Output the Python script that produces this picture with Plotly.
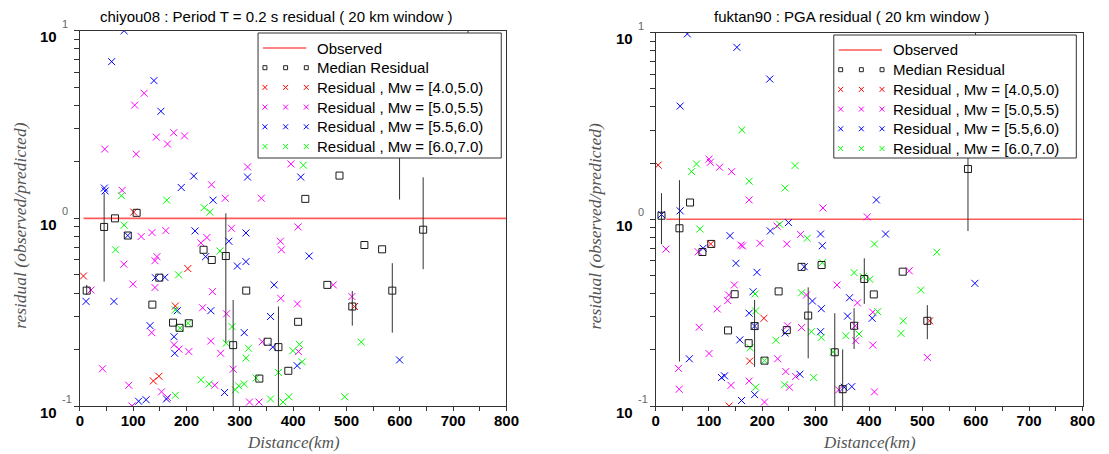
import math
import plotly.graph_objects as go

W, H = 1109, 454

# ---------------- LEFT panel : chiyou08, T = 0.2 s ----------------
L_TITLE = "chiyou08 : Period T = 0.2 s residual ( 20 km window )"
L_OBS_DIST = [7, 800]
L_OBS_RES = [1, 1]

L_MW1_DIST = [6.8, 101, 202.5, 179.1, 137.9, 148.3, 515.1]
L_MW1_RES = [0.493, 1.08, 0.54, 0.341, 0.136, 0.144, 0.339]

L_MW2_DIST = [120.6, 102.8, 143.4, 176, 164.3, 196.3, 46.7, 105.8, 314.5, 79.4,
              246.9, 272.7, 340.3, 395.8, 115, 135.4, 161.2, 82.5, 227.1, 238.2,
              284.3, 376.1, 378, 409.3, 144.6, 140.9, 99.7, 140.9, 20.9, 248.7,
              230.2, 275.1, 134.8, 176.7, 185.9, 204.4, 245.6, 264, 287.5, 342.1,
              376.7, 408, 409.9, 252.9, 42.5, 91.8, 153.2, 164.3, 97.9, 318.1,
              336, 475.2, 510.2]
L_MW2_RES = [4.64, 4.01, 2.71, 2.86, 2.49, 2.75, 2.34, 2.20, 1.88, 1.41,
             1.51, 1.28, 1.28, 1.95, 0.80, 0.84, 0.86, 0.57, 0.74, 0.79,
             0.885, 0.755, 0.68, 0.90, 0.625, 0.595, 0.446, 0.428, 0.415, 0.407,
             0.334, 0.31, 0.246, 0.212, 0.201, 0.195, 0.222, 0.191, 0.157, 0.22,
             0.375, 0.35, 0.195, 0.129, 0.158, 0.129, 0.119, 0.111, 0.10, 0.105,
             0.105, 0.442, 0.383]

L_MW3_DIST = [83, 59.7, 139, 152, 46, 47.5, 190.2, 213.6, 249.8, 314.5,
              414.2, 89.9, 216, 235.8, 279.4, 311.5, 430, 311.5, 295.4, 141.6,
              159.3, 11.6, 64, 245.6, 182.8, 131.7, 176.7, 177.9, 308.3, 364.3,
              357.6, 361.7, 407.5, 271.4, 162.5, 110.2, 124.3, 599.5]
L_MW3_RES = [10.0, 6.84, 5.42, 3.72, 1.45, 1.40, 1.46, 1.68, 1.25, 1.66,
             1.66, 0.81, 0.857, 0.625, 0.755, 0.836, 0.63, 0.588, 0.557, 0.483,
             0.485, 0.361, 0.361, 0.322, 0.322, 0.268, 0.234, 0.191, 0.246, 0.442,
             0.30, 0.206, 0.164, 0.118, 0.109, 0.106, 0.108, 0.176]

L_MW4_DIST = [78.1, 163, 233.2, 243.7, 419.1, 83.1, 67, 262.8, 185.2, 179.1,
              188, 203, 274.5, 285.6, 316.3, 311.5, 411.7, 399.5, 416.8, 372.4,
              330.5, 227.1, 242.4, 291.7, 297.9, 308.3, 179.1, 357.6, 380.9, 392,
              527.7, 496.7]
L_MW4_RES = [1.32, 1.25, 1.14, 1.08, 1.92, 0.92, 0.68, 0.67, 0.50, 0.325,
             0.26, 0.276, 0.216, 0.265, 0.203, 0.18, 0.213, 0.197, 0.172, 0.151,
             0.141, 0.138, 0.131, 0.122, 0.128, 0.131, 0.114, 0.109, 0.105, 0.112,
             0.219, 0.112]

L_MED_DIST = [12.9, 45.6, 65.9, 89.9, 106.5, 136, 149, 174.8, 187, 204.4,
              232, 247.4, 273.8, 287.5, 312, 336.6, 352.1, 372.4, 390.9, 409.3,
              422.8, 464.1, 486.9, 510.9, 533.6, 566.8, 585.9, 599.5, 643.8, 728]
L_MED_RES = [0.412, 0.90, 1.0, 0.81, 1.07, 0.347, 0.483, 0.278, 0.261, 0.276,
             0.68, 0.60, 0.63, 0.211, 0.412, 0.14, 0.22, 0.206, 0.154, 0.281,
             1.27, 0.442, 1.69, 0.339, 0.721, 0.684, 0.412, 3.0, 0.87, 4.0]
L_MED_LO = [0.391, 0.46, None, None, None, None, None, None, None, None,
            None, None, 0.218, 0.08, None, None, None, 0.08, None, None,
            None, None, None, 0.268, None, None, 0.246, 1.26, 0.536, 2.5]
L_MED_HI = [0.442, 1.365, None, None, None, None, None, None, None, None,
            None, None, 1.064, 0.367, None, None, None, 0.339, None, None,
            None, None, None, 0.41, None, None, 0.577, 6.0, 1.655, 12.0]

# ---------------- RIGHT panel : fuktan90, PGA ----------------
R_TITLE = "fuktan90 : PGA residual ( 20 km window )"
R_OBS_DIST = [20, 800]
R_OBS_RES = [1, 1]

R_MW1_DIST = [4.8, 103.3, 203, 176.4, 137.8, 513.5]
R_MW1_RES = [1.95, 0.738, 0.295, 0.174, 0.10, 0.286]

R_MW2_DIST = [100.2, 102.6, 119.9, 142.6, 175.3, 313.7, 396.7, 19.6, 80, 159.8,
              163, 195.6, 227.5, 245.9, 271.8, 147.6, 137.1, 135.2, 115.5, 282.8,
              340, 378.2, 81.7, 100.2, 247.2, 273.6, 228.8, 43, 44.3, 141.3,
              175.3, 204.1, 244.1, 250.9, 262.5, 343.2, 475.3, 407, 374, 375.1,
              407, 509.2, 410.1]
R_MW2_RES = [2.1, 2.02, 1.9, 1.80, 1.27, 1.15, 1.03, 0.693, 0.67, 0.728,
             0.72, 0.744, 0.92, 0.737, 0.83, 0.445, 0.393, 0.367, 0.331, 0.393,
             0.445, 0.357, 0.264, 0.191, 0.269, 0.263, 0.179, 0.159, 0.123, 0.129,
             0.136, 0.105, 0.153, 0.126, 0.144, 0.122, 0.53, 0.318, 0.269, 0.224,
             0.212, 0.182, 0.119]

R_MW3_DIST = [59.6, 152.4, 214, 46.1, 11.1, 46.1, 89.1, 139.5, 215.1, 249.1,
              309.2, 312.4, 150.6, 190, 278.6, 182.7, 293.9, 310.5, 363.5, 175.3,
              185.6, 157.9, 242.8, 309.2, 63.3, 123.6, 129.2, 185.6, 161.1, 270.5,
              353.5, 367.7, 413.8, 431, 598.3, 359.8, 405.9]
R_MW3_RES = [9.84, 8.34, 5.64, 4.04, 1.06, 1.11, 0.70, 0.817, 0.866, 0.96,
             0.834, 0.722, 0.581, 0.52, 0.557, 0.409, 0.365, 0.332, 0.38, 0.314,
             0.268, 0.226, 0.246, 0.25, 0.179, 0.142, 0.145, 0.115, 0.107, 0.148,
             0.126, 0.127, 1.27, 0.834, 0.454, 0.303, 0.295]

R_MW4_DIST = [161.6, 67.5, 76.8, 175.3, 261.3, 242.8, 83, 232.5, 284.1, 312.4,
              186.3, 273.6, 372, 389.3, 187.5, 177.1, 225.6, 292.1, 310.5, 204.1,
              332.7, 187.5, 241.7, 296.3, 410.1, 527, 401.5, 496.9, 416.2, 356.6,
              381.2, 464.2, 460]
R_MW4_RES = [3.01, 1.80, 1.98, 1.60, 1.94, 1.47, 0.887, 0.94, 0.791, 0.586,
             0.398, 0.404, 0.518, 0.493, 0.323, 0.205, 0.225, 0.25, 0.233, 0.175,
             0.195, 0.126, 0.13, 0.142, 0.737, 0.666, 0.477, 0.418, 0.32, 0.238,
             0.243, 0.286, 0.245]

R_MED_DIST = [11.1, 44.8, 64.6, 87.8, 104.4, 135.8, 148.2, 174.5, 185.6, 204.1,
              230.6, 245.9, 273.6, 286, 311.1, 335.8, 350.6, 372, 391.1, 408.9,
              463.1, 509.2, 585.4, 599.6]
R_MED_RES = [1.045, 0.895, 1.23, 0.668, 0.738, 0.254, 0.397, 0.217, 0.268, 0.175,
             0.411, 0.255, 0.556, 0.305, 0.569, 0.194, 0.123, 0.269, 0.479, 0.396,
             0.524, 0.286, 1.86, 4.5]
R_MED_LO = [0.735, 0.173, None, None, None, None, None, None, 0.162, None,
            None, None, None, 0.18, None, 0.08, 0.08, 0.202, 0.352, None,
            None, 0.228, 0.865, 2.5]
R_MED_HI = [1.38, 1.62, None, None, None, None, None, None, 0.37, None,
            None, None, None, 0.432, None, 0.314, 0.201, 0.334, 0.618, None,
            None, 0.347, 2.8, 12.0]

# ---------------- shared labels ----------------
LEGEND_LABELS = ["Observed", "Median Residual",
                 "Residual , Mw = [4.0,5.0)", "Residual , Mw = [5.0,5.5)",
                 "Residual , Mw = [5.5,6.0)", "Residual , Mw = [6.0,7.0)"]
MW_COLORS = ["#ff0000", "#ff00ff", "#0000ff", "#00ff00"]
X_TICKS = [0, 100, 200, 300, 400, 500, 600, 700, 800]
Y_TICKS = [0.1, 1, 10]
Y_TICK_EXP = ["-1", "0", "1"]
X_TITLE = "Distance(km)"
Y_TITLE = "residual (observed/predicted)"

# ---------------- layout geometry (pixels) ----------------
PANELS = [
    dict(xa="x", ya="y", left=77, right=510.3, top=30.7, bottom=406,
         title=L_TITLE, title_x=277, title_y=16,
         legend=(258, 33, 505, 158)),
    dict(xa="x2", ya="y2", left=661.7, right=1095.3, top=32.6, bottom=406,
         title=R_TITLE, title_x=861, title_y=17,
         legend=(842.7, 35, 1089, 158)),
]

SANS = "Liberation Sans, Arial, sans-serif"
SERIF = "Liberation Serif, Times New Roman, serif"


def px(x):
    return x / W


def py(y):
    return 1 - y / H


fig = go.Figure()
shapes = []
annotations = []


def add_data(p, obs_d, obs_r, series, med_d, med_r, med_lo, med_hi):
    common = dict(xaxis=p["xa"], yaxis=p["ya"], hoverinfo="skip", showlegend=False)
    fig.add_trace(go.Scatter(x=obs_d, y=obs_r, mode="lines",
                             line=dict(color="#ff5a5a", width=1.6), **common))
    for (d, r), c in zip(series, MW_COLORS):
        fig.add_trace(go.Scatter(x=d, y=r, mode="markers",
                                 marker=dict(symbol="x-thin", size=7, color=c,
                                             line=dict(color=c, width=1)),
                                 **common))
    bx, by = [], []
    for d, lo, hi in zip(med_d, med_lo, med_hi):
        if lo is not None:
            bx += [d, d, None]
            by += [lo, hi, None]
    fig.add_trace(go.Scatter(x=bx, y=by, mode="lines",
                             line=dict(color="#333333", width=1), **common))
    fig.add_trace(go.Scatter(x=med_d, y=med_r, mode="markers",
                             marker=dict(symbol="square-open", size=7, color="#1a1a1a",
                                         line=dict(color="#1a1a1a", width=1)),
                             **common))


add_data(PANELS[0], L_OBS_DIST, L_OBS_RES,
         [(L_MW1_DIST, L_MW1_RES), (L_MW2_DIST, L_MW2_RES),
          (L_MW3_DIST, L_MW3_RES), (L_MW4_DIST, L_MW4_RES)],
         L_MED_DIST, L_MED_RES, L_MED_LO, L_MED_HI)
add_data(PANELS[1], R_OBS_DIST, R_OBS_RES,
         [(R_MW1_DIST, R_MW1_RES), (R_MW2_DIST, R_MW2_RES),
          (R_MW3_DIST, R_MW3_RES), (R_MW4_DIST, R_MW4_RES)],
         R_MED_DIST, R_MED_RES, R_MED_LO, R_MED_HI)

axis_common = dict(showline=True, linecolor="#333333", linewidth=1, mirror=True,
                   showgrid=False, zeroline=False, ticks="outside",
                   tickcolor="#333333")

layout_axes = {}
for i, p in enumerate(PANELS):
    xkey = "xaxis" if i == 0 else "xaxis2"
    ykey = "yaxis" if i == 0 else "yaxis2"
    layout_axes[xkey] = dict(
        domain=[px(p["left"]), px(p["right"])], range=[0, 800], anchor=p["ya"],
        tickvals=X_TICKS, ticklen=4, ticklabelstandoff=-3,
        tickfont=dict(family=SANS, size=15, color="black", weight="bold"),
        minor=dict(ticks="outside", ticklen=4, dtick=50, tickcolor="#333333"),
        **axis_common)
    layout_axes[ykey] = dict(
        domain=[py(p["bottom"]), py(p["top"])], type="log", range=[-1, 1],
        anchor=p["xa"], tickvals=Y_TICKS, ticklen=5, showticklabels=False,
        minor=dict(ticks="outside", ticklen=5, tickcolor="#333333",
                   tickvals=[0.2, 0.3, 0.4, 0.5, 0.6, 0.7, 0.8, 0.9,
                             2, 3, 4, 5, 6, 7, 8, 9]),
        **axis_common)

    # titles
    annotations.append(dict(text=p["title"], x=px(p["title_x"]), y=py(p["title_y"]),
                            xref="paper", yref="paper", showarrow=False,
                            xanchor="center", yanchor="middle",
                            font=dict(family=SANS, size=15, color="black")))
    # axis titles
    annotations.append(dict(text=X_TITLE, x=px((p["left"] + p["right"]) / 2), y=py(442),
                            xref="paper", yref="paper", showarrow=False,
                            xanchor="center", yanchor="middle",
                            font=dict(family=SERIF, size=17, color="#555555",
                                      style="italic")))
    annotations.append(dict(text=Y_TITLE, x=px(p["left"] - 61), y=py(226),
                            xref="paper", yref="paper", showarrow=False,
                            textangle=-90, xanchor="center", yanchor="middle",
                            font=dict(family=SERIF, size=17.5, color="#555555",
                                      style="italic")))
    # y tick labels  10^k
    yref = "y" if i == 0 else "y2"
    for v, e in zip(Y_TICKS, Y_TICK_EXP):
        annotations.append(dict(text="10", x=px(p["left"] - 21), y=math.log10(v),
                                xref="paper", yref=yref, showarrow=False,
                                xanchor="right", yanchor="middle", yshift=-6,
                                font=dict(family=SANS, size=15, color="black",
                                          weight="bold")))
        annotations.append(dict(text=e, x=px(p["left"] - 20), y=math.log10(v),
                                xref="paper", yref=yref, showarrow=False,
                                xanchor="left", yanchor="middle", yshift=7,
                                font=dict(family=SANS, size=11, color="#666666")))

    # legend box
    bl, bt, br, bb = p["legend"]
    shapes.append(dict(type="rect", xref="paper", yref="paper",
                       x0=px(bl), x1=px(br), y0=py(bb), y1=py(bt),
                       line=dict(color="#333333", width=1), fillcolor="white",
                       layer="above"))
    rows = [bt + 15 + 19.7 * k for k in range(len(LEGEND_LABELS))]
    gx = [bl + 7, bl + 28, bl + 49]
    shapes.append(dict(type="line", xref="paper", yref="paper",
                       x0=px(bl + 5), x1=px(bl + 49), y0=py(rows[0]), y1=py(rows[0]),
                       line=dict(color="#ff5a5a", width=1.5), layer="above"))
    for gxx in gx:
        shapes.append(dict(type="rect", xref="paper", yref="paper",
                           x0=px(gxx - 2), x1=px(gxx + 2),
                           y0=py(rows[1] + 2), y1=py(rows[1] - 2),
                           line=dict(color="#222222", width=1), layer="above"))
    for k, c in enumerate(MW_COLORS):
        yy = rows[2 + k]
        for gxx in gx:
            s = 2.5
            path = (f"M {px(gxx - s)} {py(yy - s)} L {px(gxx + s)} {py(yy + s)} "
                    f"M {px(gxx - s)} {py(yy + s)} L {px(gxx + s)} {py(yy - s)}")
            shapes.append(dict(type="path", xref="paper", yref="paper", path=path,
                               line=dict(color=c, width=1), layer="above"))
    for k, lab in enumerate(LEGEND_LABELS):
        annotations.append(dict(text=lab, x=px(bl + 58), y=py(rows[k]),
                                xref="paper", yref="paper", showarrow=False,
                                xanchor="left", yanchor="middle",
                                font=dict(family=SANS, size=15, color="black")))

fig.update_layout(
    width=W, height=H, margin=dict(l=0, r=0, t=0, b=0),
    paper_bgcolor="white", plot_bgcolor="white", showlegend=False,
    hovermode=False, shapes=shapes, annotations=annotations, **layout_axes)

fig.write_html("out.html", config={"displayModeBar": False})
